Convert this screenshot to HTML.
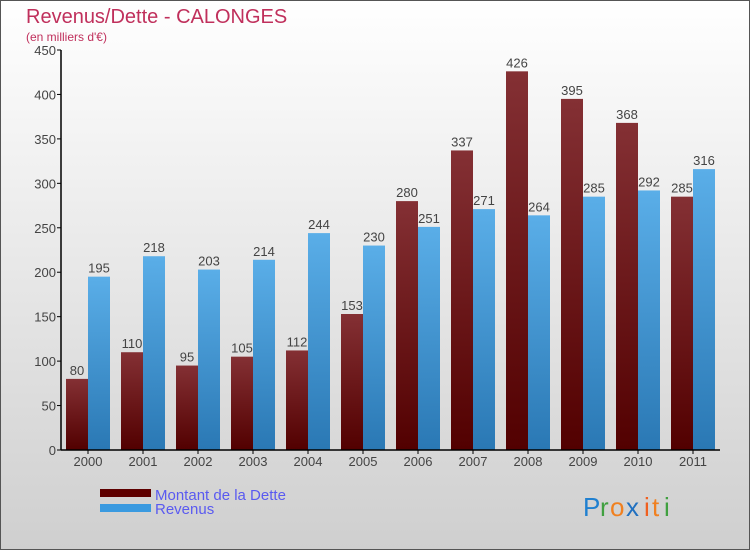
<!DOCTYPE html>
<html><head><meta charset="utf-8"><style>
html,body{margin:0;padding:0;}
body{width:750px;height:550px;overflow:hidden;font-family:"Liberation Sans",sans-serif;}
</style></head><body>
<svg id="chart" width="750" height="550" xmlns="http://www.w3.org/2000/svg">
<defs>
<linearGradient id="bg" x1="0" y1="0" x2="0" y2="1"><stop offset="0" stop-color="#ffffff"/><stop offset="1" stop-color="#cfcfcf"/></linearGradient>
<linearGradient id="gd" x1="0" y1="0" x2="0" y2="1"><stop offset="0" stop-color="#843034"/><stop offset="1" stop-color="#520000"/></linearGradient>
<linearGradient id="gr" x1="0" y1="0" x2="0" y2="1"><stop offset="0" stop-color="#5aaee8"/><stop offset="1" stop-color="#2a78b4"/></linearGradient>
</defs>
<rect x="0.5" y="0.5" width="749" height="549" fill="url(#bg)" stroke="#555"/>
<text x="26" y="23" font-size="20" fill="#c0305c">Revenus/Dette - CALONGES</text>
<text x="26" y="41" font-size="12" fill="#c0305c">(en milliers d'€)</text>
<g id="plot"></g>
<rect x="100" y="489" width="51" height="8" fill="#5e0000"/>
<rect x="100" y="504" width="51" height="8" fill="#3a9ae0"/>
<text x="155" y="500" font-size="15" fill="#5a5af0">Montant de la Dette</text>
<text x="155" y="514" font-size="15" fill="#5a5af0">Revenus</text>
<g font-size="26">
<text x="583" y="516" fill="#2080d0">P</text><text x="600" y="516" fill="#40a040">r</text><text x="610" y="516" fill="#f08020">o</text><text x="626" y="516" fill="#2070c0">x</text><text x="644" y="516" fill="#f06020">i</text><text x="652" y="516" fill="#f08020">t</text><text x="664" y="516" fill="#40a040">i</text>
</g>
</svg>
<script>
const years=["2000","2001","2002","2003","2004","2005","2006","2007","2008","2009","2010","2011"];
const dette=[80,110,95,105,112,153,280,337,426,395,368,285];
const revenus=[195,218,203,214,244,230,251,271,264,285,292,316];
const yTicks=[0,50,100,150,200,250,300,350,400,450];
const NS="http://www.w3.org/2000/svg";
const g=document.getElementById('plot');
const y0=450,yTop=50,maxV=450,x0=61,pitch=55,bw=22,first=66;
const Y=v=>y0-(v/maxV)*(y0-yTop);
const X=i=>first+i*pitch;
function mk(t,a){const e=document.createElementNS(NS,t);for(const k in a)e.setAttribute(k,a[k]);g.appendChild(e);return e;}
yTicks.forEach(v=>{
 const l=mk('line',{x1:x0-4,x2:x0,y1:Y(v),y2:Y(v),stroke:'#000'});
 
 
 const t=mk('text',{x:x0-5,y:Y(v)+5,'font-size':13,'text-anchor':'end',fill:'#444'});
 t.textContent=v;
 
 
});
years.forEach((yr,i)=>{
 const bd=mk('rect',{x:X(i),y:Y(dette[i]),width:bw,height:y0-Y(dette[i]),fill:'url(#gd)'});
 
 
 const br=mk('rect',{x:X(i)+bw,y:Y(revenus[i]),width:bw,height:y0-Y(revenus[i]),fill:'url(#gr)'});
 
 
 const td=mk('text',{x:X(i)+bw/2,y:Y(dette[i])-4,'font-size':13,'text-anchor':'middle',fill:'#444'});
 td.textContent=dette[i];
 
 
 const tr=mk('text',{x:X(i)+bw*1.5,y:Y(revenus[i])-4,'font-size':13,'text-anchor':'middle',fill:'#444'});
 tr.textContent=revenus[i];
 
 
 const tk=mk('line',{x1:X(i)+bw,x2:X(i)+bw,y1:y0,y2:y0+4,stroke:'#000'});
 
 
 const xl=mk('text',{x:X(i)+bw,y:y0+16,'font-size':13,'text-anchor':'middle',fill:'#444'});
 xl.textContent=yr;
 
 
});
const ya=mk('line',{x1:x0,x2:x0,y1:yTop,y2:y0,stroke:'#000','stroke-width':1.5});


const xa=mk('line',{x1:x0,x2:720,y1:y0,y2:y0,stroke:'#000','stroke-width':1.5});


</script>
</body></html>
